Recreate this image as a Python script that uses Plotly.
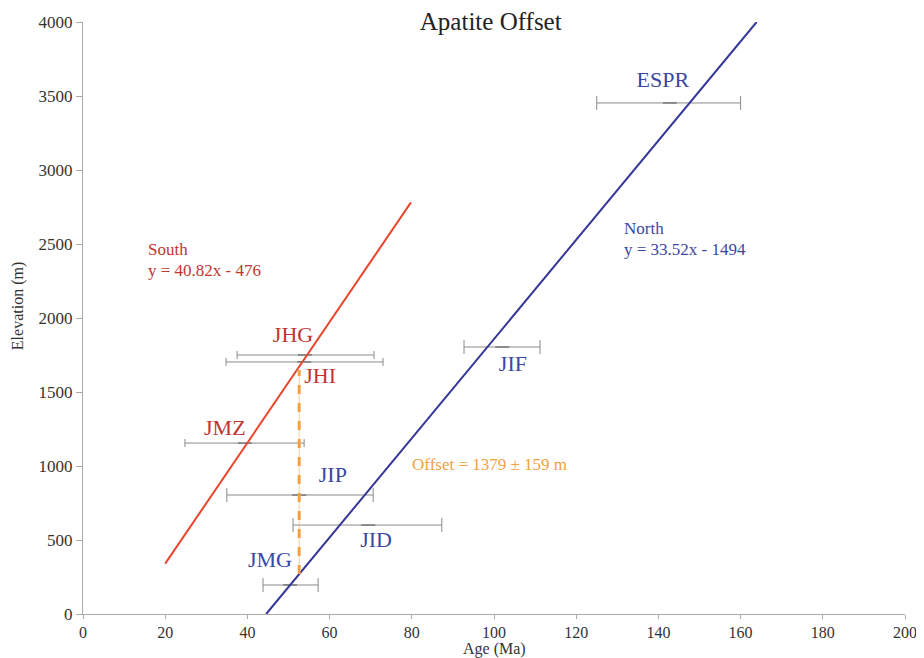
import plotly.graph_objects as go

# Samples (age in Ma, elevation in m, error bounds)
south_names = ["JHG", "JHI", "JMZ"]
south_age = [54.0, 53.8, 39.4]
south_elev = [1750, 1703, 1155]
south_lo = [37.5, 34.8, 24.8]
south_hi = [70.8, 73.0, 53.8]

north_names = ["JIP", "JID", "JMG", "JIF", "ESPR"]
north_age = [52.6, 69.4, 50.4, 102.0, 142.8]
north_elev = [804, 601, 196, 1804, 3453]
north_lo = [35.0, 51.1, 43.8, 92.7, 125.0]
north_hi = [70.6, 87.3, 57.2, 111.2, 160.0]

# Label positions
south_lab_x = [51.1, 57.7, 34.5]
south_lab_y = [1878, 1601, 1250]
north_lab_x = [60.8, 71.3, 45.5, 104.6, 141.1]
north_lab_y = [926, 493, 358, 1676, 3595]

# Regression fits
south_slope, south_int = 40.82, -476
north_slope, north_int = 33.52, -1494
south_x = [20, 79.8]
north_x = [44.57, 163.9]

# Offset line
offset_x = [52.6, 52.6]
offset_y = [270, 1649]

RED = "#e8452c"
BLUE = "#35359a"
RED_T = "#c0352f"
BLUE_T = "#3a47a3"
ORANGE = "#f5a040"
GRAY = "#8a8a8a"
FONT = "Liberation Serif"

fig = go.Figure()

def add_bars(ages, elevs, lo, hi, cap):
    fig.add_trace(go.Scatter(
        x=ages, y=elevs, mode="markers",
        marker=dict(symbol="line-ew", size=10, color="#555555",
                    line=dict(width=1, color="#555555")),
        error_x=dict(type="data", symmetric=False,
                     array=[h - a for h, a in zip(hi, ages)],
                     arrayminus=[a - l for a, l in zip(ages, lo)],
                     color=GRAY, thickness=1, width=cap),
        showlegend=False, hoverinfo="skip"))

add_bars(south_age, south_elev, south_lo, south_hi, 4)
add_bars(north_age, north_elev, north_lo, north_hi, 7)

fig.add_trace(go.Scatter(x=south_x, y=[south_slope * v + south_int for v in south_x],
                         mode="lines", line=dict(color=RED, width=2), showlegend=False))
fig.add_trace(go.Scatter(x=north_x, y=[north_slope * v + north_int for v in north_x],
                         mode="lines", line=dict(color=BLUE, width=2), showlegend=False))
fig.add_trace(go.Scatter(x=offset_x, y=offset_y, mode="lines",
                         line=dict(color=ORANGE, width=1), opacity=0.5, showlegend=False))
fig.add_trace(go.Scatter(x=offset_x, y=offset_y, mode="lines",
                         line=dict(color=ORANGE, width=3, dash="dash"), showlegend=False))

fig.add_trace(go.Scatter(x=south_lab_x, y=south_lab_y, mode="text", text=south_names,
                         textfont=dict(family=FONT, size=22, color=RED_T), showlegend=False))
fig.add_trace(go.Scatter(x=north_lab_x, y=north_lab_y, mode="text", text=north_names,
                         textfont=dict(family=FONT, size=22, color=BLUE_T), showlegend=False))

fig.add_annotation(x=15.3, y=2460, text="South", showarrow=False, xanchor="left",
                   font=dict(family=FONT, size=17, color=RED_T))
fig.add_annotation(x=15.3, y=2318, text="y = 40.82x - 476", showarrow=False, xanchor="left",
                   font=dict(family=FONT, size=17, color=RED_T))
fig.add_annotation(x=131.1, y=2608, text="North", showarrow=False, xanchor="left",
                   font=dict(family=FONT, size=17, color=BLUE_T))
fig.add_annotation(x=131.1, y=2460, text="y = 33.52x - 1494", showarrow=False, xanchor="left",
                   font=dict(family=FONT, size=17, color=BLUE_T))
fig.add_annotation(x=79.6, y=1013, text="Offset = 1379 ± 159 m", showarrow=False, xanchor="left",
                   font=dict(family=FONT, size=17, color=ORANGE))

# axis titles
fig.add_annotation(x=0.5, xref="paper", y=0, yref="paper", yanchor="middle", yshift=-35,
                   text="Age (Ma)", showarrow=False,
                   font=dict(family=FONT, size=16, color="#333333"))
fig.add_annotation(x=0, xref="paper", xanchor="center", xshift=-65,
                   y=2080, yref="y", text="Elevation (m)",
                   textangle=-90, showarrow=False,
                   font=dict(family=FONT, size=16, color="#333333"))

fig.update_layout(
    width=916, height=650,
    margin=dict(l=75, r=19, t=14, b=44),
    paper_bgcolor="white", plot_bgcolor="white",
    title=dict(text="Apatite Offset", x=0.527, xanchor="center", y=0.98, yanchor="middle",
               font=dict(family=FONT, size=25, color="#222222")),
    font=dict(family=FONT, size=14, color="#333333"),
    xaxis=dict(range=[0, 200], dtick=20, showgrid=False, zeroline=False, automargin=False,
               showline=True, linecolor="#aaaaaa", ticks="outside", ticklen=4,
               tickcolor="#aaaaaa", tickfont=dict(family=FONT, size=16)),
    yaxis=dict(range=[0, 4000], dtick=500, showgrid=False, zeroline=False, automargin=False,
               showline=True, linecolor="#aaaaaa", ticks="outside", ticklen=6,
               tickcolor="#aaaaaa", tickfont=dict(family=FONT, size=17)),
)

fig.write_html("out.html")
